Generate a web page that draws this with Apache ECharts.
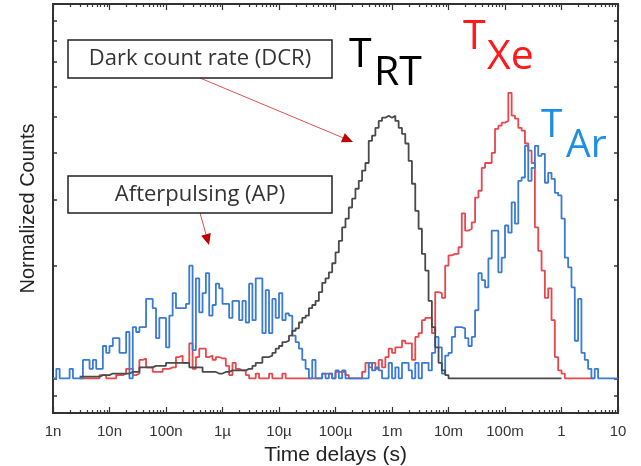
<!DOCTYPE html>
<html>
<head>
<meta charset="utf-8">
<script src="https://cdn.jsdelivr.net/npm/echarts@6/dist/echarts.min.js"></script>
<style>
  html, body { margin: 0; padding: 0; background: #fff; }
  #chart { width: 641px; height: 466px; }
</style>
</head>
<body>
<div id="chart"></div>
<script>
// x axis: log time, one label per decade
const decadeLabels = ['1n', '10n', '100n', '1µ', '10µ', '100µ', '1m', '10m', '100m', '1', '10'];
const firstDecade = -9;
const binsPerDecade = 17;
const yTicks = [0.9, 1, 2, 3, 4, 5, 6, 7, 8, 9, 10];

// histogram counts, one row per decade (17 log bins each)
const rtCounts = [
  null, null, null, null, null, null, null, null, 1.01, 1.01, 1.01, 1.01, 1.01, 1.01, 1.02, 1.02, 1.02,
  1.03, 1.03, 1.03, 1.03, 1.03, 1.03, 1.04, 1.04, 1.04, 1.07, 1.07, 1.07, 1.07, 1.08, 1.08, 1.08, 1.08,
  1.10, 1.10, 1.10, 1.10, 1.10, 1.10, 1.10, 1.07, 1.07, 1.07, 1.07, 1.04, 1.04, 1.04, 1.04, 1.03, 1.03,
  1.04, 1.04, 1.05, 1.05, 1.05, 1.05, 1.05, 1.06, 1.06, 1.08, 1.10, 1.10, 1.14, 1.14, 1.15, 1.17, 1.20,
  1.22, 1.25, 1.26, 1.30, 1.34, 1.36, 1.41, 1.45, 1.47, 1.54, 1.57, 1.61, 1.70, 1.80, 1.85, 1.92, 2.03,
  2.17, 2.33, 2.53, 2.67, 2.86, 3.02, 3.21, 3.37, 3.59, 3.76, 4.31, 4.45, 4.67, 4.87, 4.97, 5.03, 4.97,
  5.03, 4.87, 4.67, 4.50, 4.24, 3.81, 3.31, 2.80, 2.51, 2.15, 1.94, 1.61, 1.37, 1.21, 1.10, 1.05, 1.02,
  1, 1, 1, 1, 1, 1, 1, 1, 1, 1, 1, 1, 1, 1, 1, 1, 1,
  1, 1, 1, 1, 1, 1, 1, 1, 1, 1, 1, 1, 1, 1, 1, 1, 1,
  null, null, null, null, null, null, null, null, null, null, null, null, null, null, null, null, null
];
const xeCounts = [
  null, null, null, null, null, null, null, null, 1, 1, 1, 1, 1, 1, 1.02, 1.02, 1,
  1, 1, 1.02, 1.02, 1.03, 1.06, 1.06, 1.02, 1.03, 1.12, 1.13, 1.07, 1.07, 1.04, 1.04, 1.04, 1.06,
  1.06, 1.07, 1.07, 1.14, 1.15, 1.10, 1.10, 1.24, 1.06, 1.14, 1.20, 1.20, 1.14, 1.15, 1.12, 1.14, 1.13,
  1.13, 1.08, 1.02, 1.10, 1.06, 1.05, 1.05, 1.02, 1, 1, 1.03, 1, 1, 1, 1.03, 1, 1,
  1, 1.03, 1, 1, 1, 1, 1, 1, 1, 1, 1, 1, 1, 1.03, 1.03, 1.03, 1,
  1.04, 1.04, 1.04, 1.02, 1, 1, 1, 1, 1.04, 1.10, 1.07, 1.10, 1.06, 1.12, 1.07, 1.14, 1.20,
  1.17, 1.21, 1.21, 1.26, 1.24, 1.24, 1.12, 1.29, 1.32, 1.43, 1.45, 1.45, 1.32, 1.70, 1.69, 1.64, 2.00,
  2.13, 2.15, 2.15, 2.24, 2.76, 2.48, 2.51, 2.61, 3.04, 3.17, 3.65, 3.76, 3.76, 4.00, 4.64, 4.73, 4.82,
  4.87, 5.79, 5.03, 4.94, 4.67, 4.59, 4.24, 4.06, 3.76, 2.53, 2.19, 1.94, 1.64, 1.74, 1.43, 1.14, 1.05,
  1.03, 1, 1, 1, 1, 1, 1, 1, 1, 1, null, null, null, null, null, null, null
];
const arCounts = [
  1, 1.06, 1, 1, 1, 1.06, 1, 1, 1, 1.12, 1.12, 1.06, 1.12, 1.06, 1.06, 1.22, 1.17,
  1.22, 1.28, 1.28, 1.17, 1.17, 1.33, 1, 1.37, 1.33, 1.37, 1.37, 1.63, 1.63, 1.54, 1.28, 1.45, 1.45,
  1.21, 1.47, 1.69, 1.54, 1.54, 1.54, 1.58, 2.00, 1.19, 1.85, 1.50, 1.69, 1.91, 1.47, 1.57, 1.79, 1.74,
  1.58, 1.58, 1.45, 1.61, 1.61, 1.43, 1.61, 1.41, 1.79, 1.43, 1.85, 1.85, 1.32, 1.72, 1.32, 1.63, 1.45,
  1.69, 1.43, 1.49, 1.47, 1.30, 1.25, 1.20, 1.12, 1.06, 1, 1.12, 1, 1, 1.03, 1, 1.03, 1,
  1.05, 1, 1.05, 1, 1, 1, 1, 1, 1, 1, 1.10, 1.05, 1.07, 1.05, 1, 1, 1.10,
  1, 1.07, 1, 1.10, 1.10, 1.05, 1, 1.10, 1, 1.10, 1.10, 1.05, 1.17, 1.29, 1.21, 1.03, 1.15,
  1.17, 1.29, 1.37, 1.37, 1.36, 1.28, 1.22, 1.29, 1.52, 1.91, 1.83, 1.75, 2.09, 2.48, 2.48, 1.92, 2.10,
  2.56, 2.45, 2.95, 2.59, 3.37, 3.44, 4.18, 3.37, 3.65, 4.18, 3.93, 3.98, 3.33, 3.54, 3.41, 3.13, 3.08,
  2.67, 2.10, 1.98, 1.75, 1.26, 1.63, 1.17, 1.12, 1.06, 1, 1.06, 1, 1, 1, 1, 1, 1
];

const majorTicks = decadeLabels.map((_, k) => Number('1e' + (firstDecade + k)));
const minorTicks = [];
for (let k = 0; k < decadeLabels.length - 1; k++) {
  for (let m = 2; m <= 9; m++) minorTicks.push(Number(m + 'e' + (firstDecade + k)));
}

function binEdge(i) {
  return Math.pow(10, firstDecade + i / binsPerDecade);
}

// left edge of every bin, plus a closing point on the last right edge
function toSteps(counts) {
  const pts = [];
  counts.forEach((v, i) => {
    if (v == null) return;
    pts.push([binEdge(i), v]);
    if (counts[i + 1] == null) pts.push([binEdge(i + 1), v]);
  });
  return pts;
}

const frame = '#333';
const xRange = { type: 'log', logBase: 10, min: 1e-9, max: 10 };

function xAxisAt(position, ticks, len, extra) {
  return Object.assign({}, xRange, {
    position,
    axisLine: { show: true, onZero: false, lineStyle: { color: frame, width: 2 } },
    axisTick: { show: true, inside: true, length: len, customValues: ticks, lineStyle: { color: frame, width: 1.2 } },
    axisLabel: { show: false },
    splitLine: { show: false }
  }, extra || {});
}

function yAxisAt(position, extra) {
  return Object.assign({
    type: 'log', logBase: 10, min: 0.808, max: 10, position,
    axisLine: { show: true, onZero: false, lineStyle: { color: frame, width: 2 } },
    axisTick: { show: true, inside: true, length: 4, customValues: yTicks, lineStyle: { color: frame, width: 1.5 } },
    axisLabel: { show: false },
    splitLine: { show: false }
  }, extra || {});
}

function arrow(x1, y1, x2, y2) {
  const a = Math.atan2(y2 - y1, x2 - x1);
  const len = 11, half = 5;
  const bx = x2 - len * Math.cos(a), by = y2 - len * Math.sin(a);
  return [
    { type: 'line', shape: { x1, y1, x2: bx, y2: by }, style: { stroke: '#d9534f', lineWidth: 1 } },
    {
      type: 'polygon',
      shape: { points: [[x2, y2], [bx - half * Math.sin(a), by + half * Math.cos(a)], [bx + half * Math.sin(a), by - half * Math.cos(a)]] },
      style: { fill: '#c00000' }
    }
  ];
}

function label(text, x, y, size, color) {
  return {
    type: 'text',
    style: { text, x, y, font: size + 'px "Open Sans"', fill: color, align: 'left', verticalAlign: 'middle' }
  };
}

function box(x, y, w, h, text) {
  return [
    { type: 'rect', shape: { x, y, width: w, height: h }, style: { fill: '#fff', stroke: '#222', lineWidth: 1.5 } },
    {
      type: 'text',
      style: { text, x: x + w / 2, y: y + h / 2, font: '22px "Open Sans"', fill: '#333', align: 'center', verticalAlign: 'middle' }
    }
  ];
}

const chart = echarts.init(document.getElementById('chart'));

chart.setOption({
  animation: false,
  grid: { left: 53, right: 23, top: 4, bottom: 53, outerBoundsMode: 'none' },
  xAxis: [
    xAxisAt('bottom', majorTicks, 6, {
      name: 'Time delays (s)',
      nameLocation: 'middle',
      nameGap: 32,
      nameTextStyle: { fontFamily: 'Liberation Sans', fontSize: 21, color: '#222' },
      axisLabel: {
        show: true,
        customValues: majorTicks,
        margin: 11,
        fontFamily: 'Liberation Sans',
        fontSize: 15,
        color: '#333',
        formatter: (v) => decadeLabels[Math.round(Math.log10(v)) - firstDecade]
      }
    }),
    xAxisAt('bottom', minorTicks, 3),
    xAxisAt('top', majorTicks, 6),
    xAxisAt('top', minorTicks, 3)
  ],
  yAxis: [
    yAxisAt('left', {
      name: 'Normalized Counts',
      nameLocation: 'middle',
      nameRotate: 90,
      nameGap: 15,
      nameTextStyle: { fontFamily: 'Liberation Sans', fontSize: 20, color: '#222' }
    }),
    yAxisAt('right')
  ],
  series: [
    { name: 'Xe', data: toSteps(xeCounts), color: '#e8474c' },
    { name: 'Ar', data: toSteps(arCounts), color: '#3a7bd5' },
    { name: 'RT', data: toSteps(rtCounts), color: '#4a4a4a' }
  ].map((s) => Object.assign({
    type: 'line',
    step: 'end',
    showSymbol: false,
    symbol: 'none',
    xAxisIndex: 0,
    yAxisIndex: 0,
    lineStyle: { width: 1.8, color: s.color }
  }, s)),
  graphic: [].concat(
    arrow(200, 78, 353, 142),
    arrow(200, 213, 209, 245),
    box(68, 40, 264, 38, 'Dark count rate (DCR)'),
    box(68, 176, 264, 37, 'Afterpulsing (AP)'),
    label('T', 349, 55, 41, '#000'),
    label('RT', 374, 73, 41, '#000'),
    label('T', 463, 37, 41, '#ff1a1a'),
    label('Xe', 487, 57, 41, '#ff1a1a'),
    label('T', 541, 126, 39, '#1e8fe6'),
    label('Ar', 566, 146, 39, '#1e8fe6')
  )
});
</script>
</body>
</html>
